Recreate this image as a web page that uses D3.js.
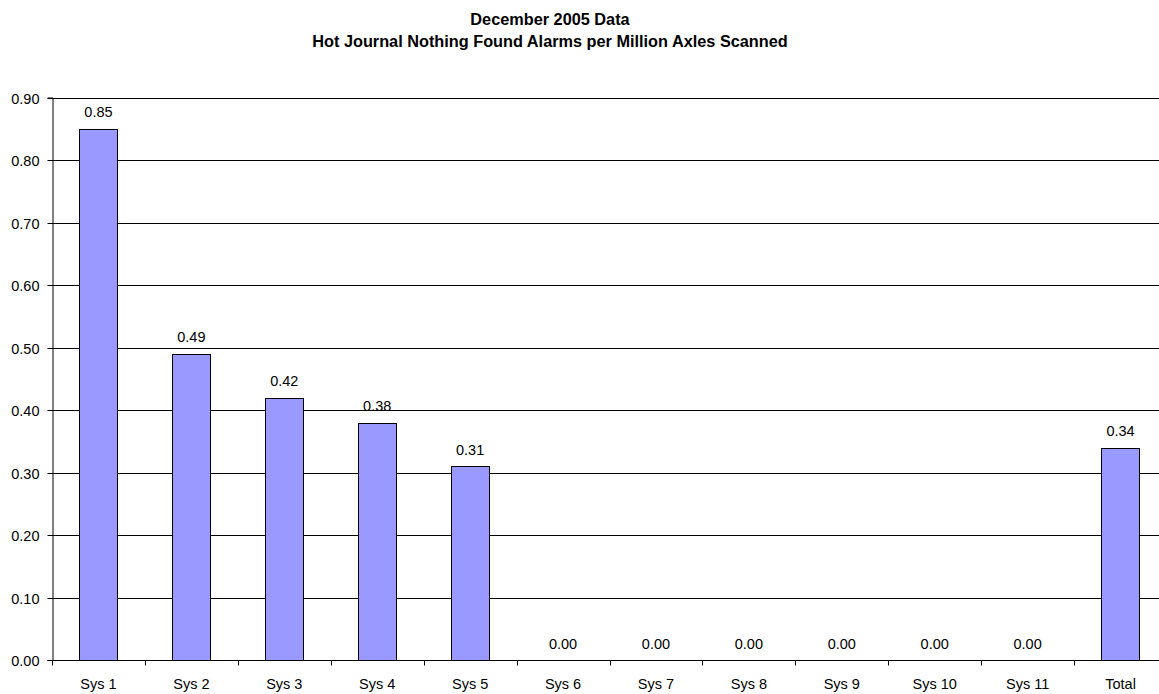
<!DOCTYPE html>
<html>
<head>
<meta charset="utf-8">
<script src="https://cdn.jsdelivr.net/npm/d3@7/dist/d3.min.js"></script>
<style>
  html, body { margin: 0; padding: 0; background: #fff; }
  svg { display: block; font-family: Arial, "Liberation Sans", sans-serif; }
</style>
</head>
<body>
<svg id="chart" width="1159" height="694"></svg>
<script>
// Alarm rates per system, December 2005
const categories = ["Sys 1", "Sys 2", "Sys 3", "Sys 4", "Sys 5", "Sys 6", "Sys 7", "Sys 8", "Sys 9", "Sys 10", "Sys 11", "Total"];
const values = [0.85, 0.49, 0.42, 0.38, 0.31, 0.00, 0.00, 0.00, 0.00, 0.00, 0.00, 0.34];
const yTicks = [0.0, 0.1, 0.2, 0.3, 0.4, 0.5, 0.6, 0.7, 0.8, 0.9];
const titleLines = ["December 2005 Data", "Hot Journal Nothing Found Alarms per Million Axles Scanned"];

const svg = d3.select("#chart");
const margin = { left: 52, top: 97.5, bottom: 660, right: 1167 };
const labelSize = "14.5px";

const x = d3.scaleBand()
  .domain(categories)
  .range([margin.left, margin.right])
  .paddingInner(0.59)
  .paddingOuter(0.295);

const xTickScale = d3.scaleLinear().domain([0, categories.length]).range([margin.left, margin.right]);

const y = d3.scaleLinear().domain([0, 0.9]).range([margin.bottom, margin.top]);

// Title
svg.append("g").selectAll("text")
  .data(titleLines)
  .join("text")
  .attr("x", 550)
  .attr("y", (d, i) => 25 + i * 22)
  .attr("text-anchor", "middle")
  .attr("font-weight", "bold")
  .attr("font-size", "16.3px")
  .text(d => d);

// Horizontal gridlines
svg.append("g").selectAll("line")
  .data(yTicks.slice(1))
  .join("line")
  .attr("x1", margin.left)
  .attr("x2", margin.right)
  .attr("y1", d => Math.round(y(d)) + 0.5)
  .attr("y2", d => Math.round(y(d)) + 0.5)
  .attr("stroke", "#000")
  .attr("stroke-width", 1);

// Y axis
const yAxis = d3.axisLeft(y)
  .tickValues(yTicks)
  .tickFormat(d3.format(".2f"))
  .tickSize(5)
  .tickPadding(8);
const gy = svg.append("g")
  .attr("transform", `translate(${margin.left + 0.5},0)`)
  .call(yAxis);
gy.select(".domain").attr("stroke", "#000");
gy.selectAll(".tick line").attr("stroke", "#000");
gy.selectAll(".tick").attr("transform", d => `translate(0,${Math.round(y(d)) + 0.5})`);
gy.selectAll("text")
  .attr("font-size", labelSize)
  .attr("font-family", "Arial, 'Liberation Sans', sans-serif")
  .attr("fill", "#000")
  .attr("dy", "0.36em");

// Bars
svg.append("g").selectAll("rect")
  .data(values)
  .join("rect")
  .attr("x", (d, i) => Math.round(x(categories[i])) + 0.5)
  .attr("width", Math.round(x.bandwidth()))
  .attr("y", d => Math.round(y(d)) + 0.5)
  .attr("height", d => Math.round(y(0)) - Math.round(y(d)))
  .attr("fill", "#9999ff")
  .attr("stroke", "#000")
  .attr("stroke-width", 1)
  .style("display", d => d > 0 ? null : "none");

// Value labels
svg.append("g").selectAll("text")
  .data(values)
  .join("text")
  .attr("x", (d, i) => x(categories[i]) + x.bandwidth() / 2)
  .attr("y", d => y(d) - 11.5)
  .attr("text-anchor", "middle")
  .attr("font-size", labelSize)
  .text(d => d3.format(".2f")(d));

// X axis baseline and category ticks
const base = Math.round(y(0)) + 0.5;
svg.append("line")
  .attr("x1", margin.left).attr("x2", margin.right)
  .attr("y1", base).attr("y2", base)
  .attr("stroke", "#000");
svg.append("g").selectAll("line")
  .data(d3.range(categories.length + 1))
  .join("line")
  .attr("x1", d => Math.round(xTickScale(d)) + 0.5)
  .attr("x2", d => Math.round(xTickScale(d)) + 0.5)
  .attr("y1", base)
  .attr("y2", base + 5)
  .attr("stroke", "#000");

// Category labels
svg.append("g").selectAll("text")
  .data(categories)
  .join("text")
  .attr("x", d => x(d) + x.bandwidth() / 2)
  .attr("y", 689)
  .attr("text-anchor", "middle")
  .attr("font-size", labelSize)
  .text(d => d);
</script>
</body>
</html>
